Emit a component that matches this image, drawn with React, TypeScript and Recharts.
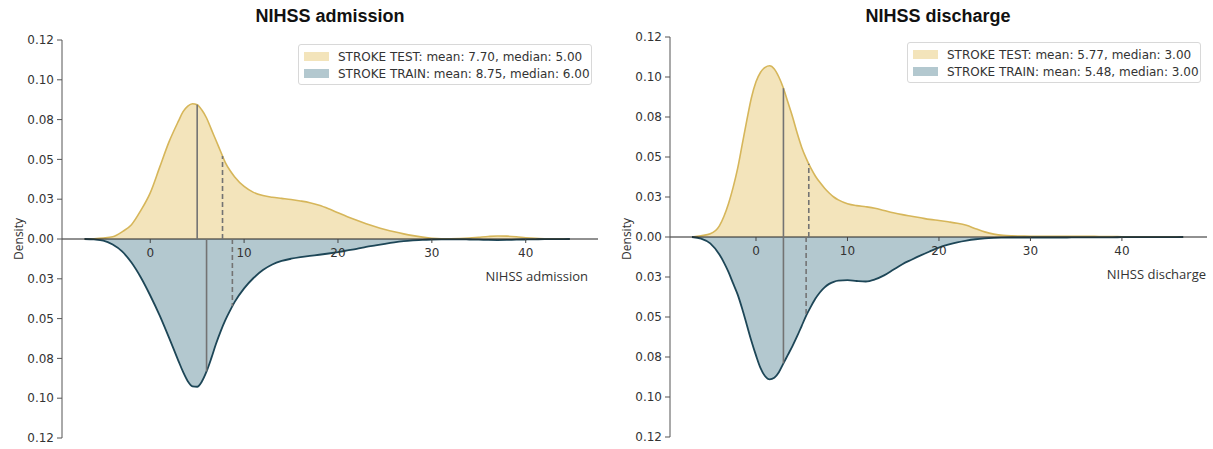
import { ComposedChart, Area, XAxis, YAxis, ReferenceLine, ReferenceDot } from 'recharts'

// ── data ───────────────────────────────────────────────────────────────────────

const Y_TICKS = [-0.125, -0.1, -0.075, -0.05, -0.025, 0, 0.025, 0.05, 0.075, 0.1, 0.125]
const Y_TICK_LABELS = ['0.12', '0.10', '0.08', '0.05', '0.03', '0.00', '0.03', '0.05', '0.08', '0.10', '0.12']
const X_TICKS = [0, 10, 20, 30, 40]

// NIHSS admission
const ADM_X = [
  -7, -6, -5, -4, -3, -2, -1, 0, 1, 2, 3,
  3.5, 4, 4.5, 5, 5.5, 6, 6.5, 7, 7.5, 8, 8.5,
  9, 10, 11, 12, 13, 14, 15, 16, 17, 18, 19, 20, 21, 22, 23, 24, 25, 26, 27, 28,
  29, 30, 31, 32, 33, 34, 35, 36, 37, 38, 39, 40, 41, 42, 43, 44,
  44.7,
]
const ADM_TEST = [
  0, 0.0002, 0.0006, 0.0014, 0.0045, 0.009, 0.018, 0.029, 0.045, 0.061, 0.074,
  0.08, 0.0835, 0.085, 0.0843, 0.081, 0.076, 0.069, 0.062, 0.055, 0.048, 0.043,
  0.039, 0.033, 0.0293, 0.0273, 0.0262, 0.0255, 0.0248, 0.0239, 0.0228, 0.0212, 0.019, 0.0165, 0.014, 0.0117, 0.0096, 0.0077, 0.006, 0.0045, 0.0032, 0.0021,
  0.0012, 0.0005, 0.0002, 0.0002, 0.0003, 0.0006, 0.0011, 0.0016, 0.0019, 0.0018, 0.0014, 0.0008, 0.0004, 0.0002, 0.0001, 0.0001,
  0,
]
const ADM_TRAIN = [
  0, 0.0003, 0.001, 0.0035, 0.0078, 0.0148, 0.0242, 0.0355, 0.048, 0.062, 0.0765,
  0.0835, 0.0893, 0.0925, 0.0928, 0.0895, 0.0832, 0.075, 0.066, 0.058, 0.051, 0.045,
  0.0395, 0.031, 0.0245, 0.0195, 0.016, 0.0138, 0.0124, 0.0114, 0.0106, 0.0099, 0.0091, 0.0082, 0.0072, 0.0062, 0.005, 0.004, 0.003, 0.0021, 0.0014, 0.0009,
  0.0005, 0.0003, 0.0002, 0.0002, 0.0002, 0.0003, 0.0004, 0.0006, 0.0007, 0.0006, 0.0004, 0.0003, 0.0002, 0.0001, 0.0001, 0.0001,
  0,
]
const ADM_MEANS = [7.7, 8.75]   // test, train
const ADM_MEDIANS = [5, 6]

// NIHSS discharge
const DIS_X = [
  -7, -6, -5, -4,
  -3.5, -3, -2.5, -2, -1.5, -1, -0.5, 0, 0.5, 1, 1.5, 2, 2.5, 3, 3.5, 4, 4.5, 5, 5.5, 6, 6.5, 7, 7.5, 8, 8.5, 9,
  10, 11, 12, 13, 14, 15, 16, 17, 18, 19, 20, 21, 22, 23, 24, 25, 26, 27, 28,
  29, 30, 31, 32, 33, 34, 35, 36, 37, 38, 39, 40, 41, 42, 43, 44, 45, 46,
  46.7,
]
const DIS_TEST = [
  0, 0.0008, 0.002, 0.007,
  0.013, 0.021, 0.031, 0.043, 0.058, 0.073, 0.087, 0.097, 0.103, 0.106, 0.107, 0.105, 0.1, 0.093, 0.084, 0.075, 0.065, 0.056, 0.049, 0.043, 0.038, 0.034, 0.0305, 0.0275, 0.025, 0.0232,
  0.0208, 0.0196, 0.0189, 0.018, 0.0166, 0.0152, 0.014, 0.013, 0.012, 0.011, 0.0103, 0.0095, 0.0086, 0.0073, 0.0052, 0.0032, 0.0018, 0.001, 0.0007,
  0.0006, 0.0005, 0.0005, 0.0005, 0.0005, 0.0005, 0.0005, 0.0004, 0.0004, 0.0003, 0.0003, 0.0002, 0.0002, 0.0001, 0.0001, 0.0001, 0.0001, 0.0001,
  0,
]
const DIS_TRAIN = [
  0, 0.001, 0.004, 0.011,
  0.016, 0.022, 0.029, 0.036, 0.045, 0.055, 0.065, 0.074, 0.082, 0.087, 0.089, 0.088, 0.0845, 0.079, 0.0735, 0.068, 0.062, 0.0555, 0.049, 0.0435, 0.0385, 0.0345, 0.0315, 0.0293, 0.028, 0.0273,
  0.027, 0.0275, 0.0278, 0.0265, 0.024, 0.0205, 0.017, 0.0142, 0.0115, 0.009, 0.0066, 0.0048, 0.0033, 0.0022, 0.0014, 0.0009, 0.0006, 0.0004, 0.0003,
  0.0003, 0.0003, 0.0003, 0.0003, 0.0003, 0.0003, 0.0002, 0.0002, 0.0002, 0.0002, 0.0002, 0.0001, 0.0001, 0.0001, 0.0001, 0.0001, 0.0001, 0.0001,
  0,
]
const DIS_MEANS = [5.77, 5.48]
const DIS_MEDIANS = [3, 3]

// ── styles ─────────────────────────────────────────────────────────────────────

const TEST_FILL = '#f3e4bb'
const TEST_EDGE = '#d6b65a'
const TRAIN_FILL = '#b3c8cf'
const TRAIN_EDGE = '#1d4657'
const VLINE = '#737373'
const TXT = '#333'
const TICK_FONT = '"DejaVu Sans", sans-serif'
const LABEL_FONT = '"Open Sans", sans-serif'

// linear lookup on the density curve, for where the mean/median lines stop
function densityAt(xs: number[], ys: number[], x: number) {
  for (let i = 0; i < xs.length - 1; i++) {
    if (x >= xs[i] && x <= xs[i + 1]) {
      const t = (x - xs[i]) / (xs[i + 1] - xs[i])
      return ys[i] + t * (ys[i + 1] - ys[i])
    }
  }
  return 0
}

interface PanelProps {
  left: number
  title: string
  xLabel: string
  xs: number[]
  test: number[]
  train: number[]
  means: number[]
  medians: number[]
  xDomain: [number, number]
  margin: { top: number; right: number; bottom: number; left: number }
  legendPos: { left: number; top: number }
  xLabelPos: { right: number; top: number }
  titleCenter: number
}

function Panel(p: PanelProps) {
  const data = p.xs.map((x, i) => ({ x, test: p.test[i], train: -p.train[i] }))
  const testLabel = `STROKE TEST: mean: ${p.means[0].toFixed(2)}, median: ${p.medians[0].toFixed(2)}`
  const trainLabel = `STROKE TRAIN: mean: ${p.means[1].toFixed(2)}, median: ${p.medians[1].toFixed(2)}`

  const xTick = (label: number) => (props: any) => {
    const { cx, cy } = props
    return (
      <g>
        <line x1={cx} x2={cx} y1={cy} y2={cy + 4} stroke="#444" strokeWidth={1} />
        <text x={cx} y={cy + 18} textAnchor="middle" fill={TXT} fontSize={12} fontFamily={TICK_FONT}>{label}</text>
      </g>
    )
  }

  return (
    <div style={{ position: 'absolute', left: p.left, top: 0, width: 605, height: 449 }}>
      <div style={{
        position: 'absolute', left: p.titleCenter - 150, width: 300, top: 6, textAlign: 'center',
        fontFamily: '"Liberation Sans", Arial, sans-serif', fontWeight: 700, fontSize: 18, color: '#111',
      }}>
        {p.title}
      </div>
      <ComposedChart width={605} height={449} data={data} margin={p.margin}>
        <XAxis type="number" dataKey="x" domain={p.xDomain} allowDataOverflow hide />
        <YAxis
          type="number"
          domain={[-0.125, 0.125]}
          ticks={Y_TICKS}
          tickFormatter={(v: number) => Y_TICK_LABELS[Y_TICKS.indexOf(v)] ?? ''}
          width={62}
          stroke="#555"
          tickSize={5}
          tickMargin={3}
          tick={{ fill: TXT, fontSize: 12, fontFamily: TICK_FONT }}
          allowDataOverflow
        />
        <Area type="monotone" dataKey="test" baseValue={0} fill={TEST_FILL} fillOpacity={1} stroke={TEST_EDGE} strokeWidth={1.6} isAnimationActive={false} dot={false} activeDot={false} />
        <Area type="monotone" dataKey="train" baseValue={0} fill={TRAIN_FILL} fillOpacity={1} stroke={TRAIN_EDGE} strokeWidth={1.8} isAnimationActive={false} dot={false} activeDot={false} />
        <ReferenceLine y={0} stroke="#222" strokeWidth={1} />
        <ReferenceLine segment={[{ x: p.medians[0], y: 0 }, { x: p.medians[0], y: densityAt(p.xs, p.test, p.medians[0]) }]} stroke={VLINE} strokeWidth={1.6} />
        <ReferenceLine segment={[{ x: p.means[0], y: 0 }, { x: p.means[0], y: densityAt(p.xs, p.test, p.means[0]) }]} stroke={VLINE} strokeWidth={1.6} strokeDasharray="5 3" />
        <ReferenceLine segment={[{ x: p.medians[1], y: 0 }, { x: p.medians[1], y: -densityAt(p.xs, p.train, p.medians[1]) }]} stroke={VLINE} strokeWidth={1.6} />
        <ReferenceLine segment={[{ x: p.means[1], y: 0 }, { x: p.means[1], y: -densityAt(p.xs, p.train, p.means[1]) }]} stroke={VLINE} strokeWidth={1.6} strokeDasharray="5 3" />
        {X_TICKS.map(t => (
          <ReferenceDot key={t} x={t} y={0} r={0} shape={xTick(t)} />
        ))}
      </ComposedChart>
      <div style={{
        position: 'absolute', left: 6, top: 239, transform: 'translate(0, -50%) rotate(-90deg)',
        transformOrigin: 'center', fontFamily: LABEL_FONT, fontSize: 12, color: TXT, width: 24, textAlign: 'center',
        whiteSpace: 'nowrap', display: 'flex', justifyContent: 'center',
      }}>
        Density
      </div>
      <div style={{
        position: 'absolute', right: p.xLabelPos.right, top: p.xLabelPos.top,
        fontFamily: LABEL_FONT, fontSize: 13, color: TXT,
      }}>
        {p.xLabel}
      </div>
      <div style={{
        position: 'absolute', left: p.legendPos.left, top: p.legendPos.top, width: 294, height: 41,
        border: '1px solid #d8d8d8', borderRadius: 3, background: 'rgba(255,255,255,0.85)',
        fontFamily: TICK_FONT, fontSize: 12, color: TXT, boxSizing: 'border-box', padding: '3px 0 0 5px',
      }}>
        {[[TEST_FILL, testLabel], [TRAIN_FILL, trainLabel]].map(([c, l]) => (
          <div key={l} style={{ display: 'flex', alignItems: 'center', height: 17 }}>
            <span style={{ display: 'inline-block', width: 25, height: 9, background: c, marginRight: 9 }} />
            <span style={{ whiteSpace: 'nowrap' }}>{l}</span>
          </div>
        ))}
      </div>
    </div>
  )
}

export default function App() {
  return (
    <div style={{ position: 'absolute', left: 0, top: 0, width: 1213, height: 449, background: '#fff' }}>
      <Panel
        left={0}
        title="NIHSS admission"
        xLabel="NIHSS admission"
        xs={ADM_X}
        test={ADM_TEST}
        train={ADM_TRAIN}
        means={ADM_MEANS}
        medians={ADM_MEDIANS}
        xDomain={[-9.4, 47.7]}
        margin={{ top: 40, right: 7, bottom: 11, left: 0 }}
        legendPos={{ left: 298, top: 44 }}
        xLabelPos={{ right: 17, top: 267 }}
        titleCenter={330}
      />
      <Panel
        left={608}
        title="NIHSS discharge"
        xLabel="NIHSS discharge"
        xs={DIS_X}
        test={DIS_TEST}
        train={DIS_TRAIN}
        means={DIS_MEANS}
        medians={DIS_MEDIANS}
        xDomain={[-9.4, 49.3]}
        margin={{ top: 37, right: 6, bottom: 12, left: 0 }}
        legendPos={{ left: 299, top: 42 }}
        xLabelPos={{ right: 7, top: 265 }}
        titleCenter={330}
      />
    </div>
  )
}
